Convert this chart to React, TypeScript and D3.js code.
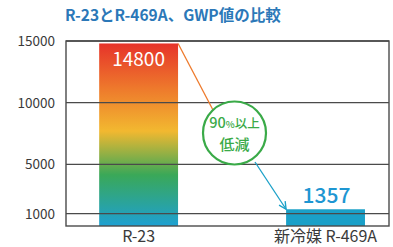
import React, { useEffect, useRef } from 'react';
import * as d3 from 'd3';

const categories = ['R-23', '新冷媒 R-469A'];
const gwpValues = [14800, 1357];
const valueLabels = ['14800', '1357'];
const yTicks = [1000, 5000, 10000, 15000];
const title = 'R-23とR-469A、GWP値の比較';
const noteLines = ['90%以上', '低減'];

const W = 393;
const H = 247;

const App: React.FC = () => {
  const svgRef = useRef<SVGSVGElement>(null);

  useEffect(() => {
    if (!svgRef.current) return;
    const svg = d3.select(svgRef.current);
    svg.selectAll('*').remove();

    const font = '"Noto Sans CJK JP", "Noto Sans", sans-serif';
    const left = 66, right = 389, top = 41, bottom = 226;

    const x = d3.scaleBand<string>()
      .domain(categories)
      .range([left, right])
      .paddingInner(0.578)
      .paddingOuter(0.153)
      .align(0.58);

    const y = d3.scaleLinear().domain([0, 15000]).range([bottom, top]);

    // gradient for first bar
    const defs = svg.append('defs');
    const grad = defs.append('linearGradient')
      .attr('id', 'barGrad')
      .attr('x1', 0).attr('y1', 0).attr('x2', 0).attr('y2', 1);
    [
      ['0%', '#e6332a'],
      ['25%', '#ee7a2c'],
      ['48%', '#f2b830'],
      ['72%', '#3aa858'],
      ['100%', '#1ea0d2'],
    ].forEach(([o, c]) => grad.append('stop').attr('offset', o).attr('stop-color', c));

    defs.append('marker')
      .attr('id', 'arrow')
      .attr('viewBox', '0 0 10 10')
      .attr('refX', 9).attr('refY', 5)
      .attr('markerWidth', 7).attr('markerHeight', 7)
      .attr('orient', 'auto')
      .append('path')
      .attr('d', 'M1,1 L9,5 L1,9')
      .attr('fill', 'none')
      .attr('stroke', '#1aa0c8')
      .attr('stroke-width', 1.5);

    // title
    svg.append('text')
      .attr('x', 65).attr('y', 21)
      .attr('fill', '#2b78b8')
      .attr('font-family', font)
      .attr('font-weight', 'bold')
      .attr('font-size', 15.5)
      .text(title);

    // bars
    svg.selectAll('.bar')
      .data(gwpValues)
      .enter()
      .append('rect')
      .attr('x', (_, i) => x(categories[i]) || 0)
      .attr('width', x.bandwidth())
      .attr('y', d => y(d))
      .attr('height', d => y(0) - y(d))
      .attr('fill', (_, i) => (i === 0 ? 'url(#barGrad)' : '#1aa0c8'));

    // grid lines and frame
    svg.selectAll('.grid')
      .data(yTicks)
      .enter()
      .append('line')
      .attr('x1', left).attr('x2', right)
      .attr('y1', d => y(d)).attr('y2', d => y(d))
      .attr('stroke', '#4a4a4a')
      .attr('stroke-width', 1.4);

    svg.append('rect')
      .attr('x', left).attr('y', top)
      .attr('width', right - left).attr('height', bottom - top)
      .attr('fill', 'none')
      .attr('stroke', '#4a4a4a')
      .attr('stroke-width', 1.4);

    // y tick labels
    svg.selectAll('.ytick')
      .data(yTicks)
      .enter()
      .append('text')
      .attr('x', 55)
      .attr('y', d => y(d) + 5)
      .attr('text-anchor', 'end')
      .attr('fill', '#3a3a3a')
      .attr('font-family', font)
      .attr('font-size', 13.5)
      .text(d => String(d));

    // category labels
    svg.selectAll('.xlabel')
      .data(categories)
      .enter()
      .append('text')
      .attr('x', d => (x(d) || 0) + x.bandwidth() / 2)
      .attr('y', 242)
      .attr('text-anchor', 'middle')
      .attr('fill', '#3a3a3a')
      .attr('font-family', font)
      .attr('font-size', 16)
      .text(d => d);

    // value labels
    const cx0 = (x(categories[0]) || 0) + x.bandwidth() / 2;
    const cx1 = (x(categories[1]) || 0) + x.bandwidth() / 2;
    svg.append('text')
      .attr('x', cx0).attr('y', y(gwpValues[0]) + 23)
      .attr('text-anchor', 'middle')
      .attr('fill', '#fff')
      .attr('font-family', font)
      .attr('font-size', 19)
      .text(valueLabels[0]);
    svg.append('text')
      .attr('x', cx1 + 1).attr('y', y(gwpValues[1]) - 6)
      .attr('text-anchor', 'middle')
      .attr('fill', '#1e96d2')
      .attr('font-family', font)
      .attr('font-weight', 500)
      .attr('font-size', 21)
      .text(valueLabels[1]);

    // annotation: lines and circle
    const barRight0 = (x(categories[0]) || 0) + x.bandwidth();
    const circ = { cx: 234.5, cy: 133, r: 31.5 };
    svg.append('line')
      .attr('x1', barRight0).attr('y1', y(gwpValues[0]))
      .attr('x2', 213).attr('y2', 110)
      .attr('stroke', '#ee7a2c')
      .attr('stroke-width', 1.3);
    svg.append('line')
      .attr('x1', 255).attr('y1', 162)
      .attr('x2', x(categories[1]) || 0).attr('y2', y(gwpValues[1]))
      .attr('stroke', '#1aa0c8')
      .attr('stroke-width', 1.3)
      .attr('marker-end', 'url(#arrow)');
    svg.append('circle')
      .attr('cx', circ.cx).attr('cy', circ.cy).attr('r', circ.r)
      .attr('fill', '#fff')
      .attr('stroke', '#3aaa48')
      .attr('stroke-width', 2.2);
    const t1 = svg.append('text')
      .attr('x', circ.cx).attr('y', circ.cy - 5)
      .attr('text-anchor', 'middle')
      .attr('fill', '#3aaa48')
      .attr('font-family', font)
      .attr('font-weight', 500)
      .attr('font-size', 14.5);
    t1.append('tspan').text(noteLines[0].slice(0, 2));
    t1.append('tspan').attr('font-size', 9.5).text(noteLines[0].slice(2, 3));
    t1.append('tspan').attr('font-size', 12.5).text(noteLines[0].slice(3));
    svg.append('text')
      .attr('x', circ.cx).attr('y', circ.cy + 17)
      .attr('text-anchor', 'middle')
      .attr('fill', '#3aaa48')
      .attr('font-family', font)
      .attr('font-weight', 500)
      .attr('font-size', 15)
      .text(noteLines[1]);
  }, []);

  return (
    <svg
      ref={svgRef}
      width={W}
      height={H}
      style={{ position: 'absolute', left: 0, top: 0, background: '#fff' }}
    />
  );
};

export default App;
